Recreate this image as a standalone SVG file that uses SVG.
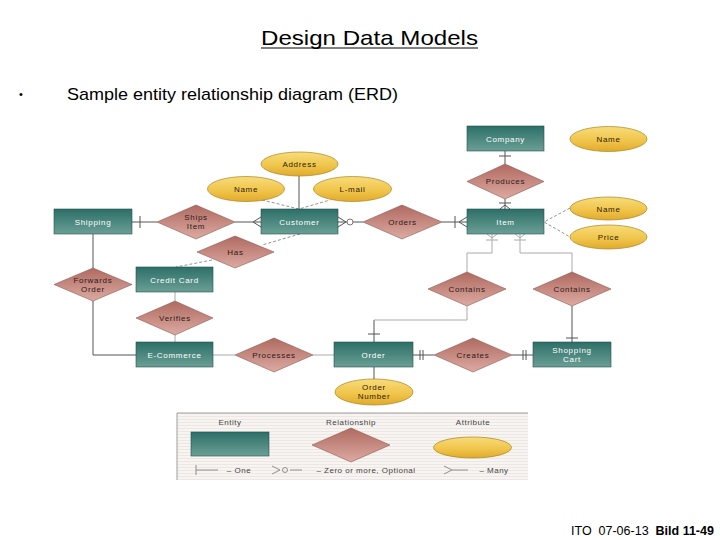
<svg xmlns="http://www.w3.org/2000/svg" width="720" height="540" viewBox="0 0 720 540">
<defs>
<linearGradient id="gE" x1="0" y1="0" x2="0" y2="1"><stop offset="0" stop-color="#2c6f68"/><stop offset="1" stop-color="#6b9f95"/></linearGradient>
<linearGradient id="gR" x1="0" y1="0" x2="0" y2="1"><stop offset="0" stop-color="#b06a60"/><stop offset="1" stop-color="#dcaaa2"/></linearGradient>
<linearGradient id="gA" x1="0" y1="0" x2="0" y2="1"><stop offset="0" stop-color="#f8dc7a"/><stop offset="0.6" stop-color="#efc348"/><stop offset="1" stop-color="#e0aa2c"/></linearGradient>
<pattern id="stripes" width="8" height="3" patternUnits="userSpaceOnUse"><rect width="8" height="3" fill="#f7f4f2"/><rect y="2" width="8" height="1" fill="#ede7e3"/></pattern>
<style>
.ent{fill:url(#gE);stroke:#24504b;stroke-width:0.6}
.rel{fill:url(#gR);stroke:#8c5a52;stroke-width:0.6}
.att{fill:url(#gA);stroke:#a88420;stroke-width:0.7}
.et{font-family:"Liberation Sans",Arial,sans-serif;font-size:8px;fill:#ffffff;text-anchor:middle;letter-spacing:0.7px}
.rt{font-family:"Liberation Sans",Arial,sans-serif;font-size:8px;fill:#2e1a1a;text-anchor:middle;letter-spacing:0.7px}
.at{font-family:"Liberation Sans",Arial,sans-serif;font-size:8px;fill:#2e2210;text-anchor:middle;letter-spacing:0.7px}
.lt{font-family:"Liberation Sans",Arial,sans-serif;font-size:8px;fill:#444;text-anchor:middle;letter-spacing:0.5px}
.s{stroke:#555;stroke-width:1;fill:none}
.g{stroke:#aaa;stroke-width:1;fill:none}
.d{stroke:#777;stroke-width:0.8;fill:none;stroke-dasharray:3 2}
</style>
</defs>
<rect width="720" height="540" fill="#ffffff"/>
<g id="title">
<text x="261" y="45" font-family="Liberation Sans,Arial,sans-serif" font-size="21" textLength="217" lengthAdjust="spacingAndGlyphs" fill="#000">Design Data Models</text>
<line x1="261" y1="48" x2="478" y2="48" stroke="#000" stroke-width="1"/>
<text x="19" y="98" font-family="Liberation Sans,Arial,sans-serif" font-size="11" fill="#000">•</text>
<text x="67" y="100" font-family="Liberation Sans,Arial,sans-serif" font-size="17" textLength="331" lengthAdjust="spacingAndGlyphs" fill="#000">Sample entity relationship diagram (ERD)</text>
</g>
<g id="connectors">
<path class="s" d="M505 151V164M499 156H511"/>
<path class="s" d="M505 199V209M499 203H511M500 209L505 205L510 209"/>
<path class="s" d="M299 176V209"/>
<path class="d" d="M262 200L299 209L330 200"/>
<path class="s" d="M132 222H157M140 216V228"/>
<path class="s" d="M235 222H261M261 217L253 222L261 227"/>
<path class="s" d="M338 222H363M338 217L346 222L338 227"/>
<circle cx="350" cy="222" r="3" fill="#fff" stroke="#555" stroke-width="0.8"/>
<path class="s" d="M442 222H467M455 216V228M467 217L459 222L467 227"/>
<path class="d" d="M570 208L544 222L570 237"/>
<path class="d" d="M300 234L262 245M212 260L176 267"/>
<path class="s" d="M93 234V268"/>
<path class="s" d="M93 301V355H136"/>
<path class="g" d="M175 292V301M175 334V342"/>
<path class="g" d="M213 355H235M313 355H334"/>
<path class="s" d="M413 355H434M420 350V360M423 350V360"/>
<path class="s" d="M512 355H533M523 350V360M526 350V360"/>
<path class="s" d="M374 342V320M368 334H380"/>
<path class="g" d="M374 320H467V306"/>
<path class="g" d="M467 272V253H492V234M486 240H498M487 234L492 238L497 234"/>
<path class="g" d="M520 234V253H572V272M514 240H526M515 234L520 238L525 234"/>
<path class="s" d="M572 306V342M566 338H578"/>
<path class="s" d="M374 367V379"/>
</g>
<g id="company"><rect class="ent" x="467" y="126" width="77" height="25"/><text class="et" x="505.5" y="141.5">Company</text></g>
<g id="shipping"><rect class="ent" x="54" y="209" width="78" height="25"/><text class="et" x="93" y="224.5">Shipping</text></g>
<g id="customer"><rect class="ent" x="261" y="209" width="77" height="25"/><text class="et" x="299.5" y="224.5">Customer</text></g>
<g id="item"><rect class="ent" x="467" y="209" width="77" height="25"/><text class="et" x="505.5" y="224.5">Item</text></g>
<g id="creditcard"><rect class="ent" x="136" y="267" width="77" height="25"/><text class="et" x="174.5" y="282.5">Credit Card</text></g>
<g id="ecommerce"><rect class="ent" x="136" y="342" width="77" height="25"/><text class="et" x="174.5" y="357.5">E-Commerce</text></g>
<g id="order"><rect class="ent" x="334" y="342" width="79" height="25"/><text class="et" x="373.5" y="357.5">Order</text></g>
<g id="shoppingcart"><rect class="ent" x="533" y="342" width="78" height="25"/><text class="et" x="572" y="353">Shopping</text><text class="et" x="572" y="362">Cart</text></g>
<g id="produces"><polygon class="rel" points="505,164 544,181.5 505,199 467,181.5"/><text class="rt" x="505.5" y="184">Produces</text></g>
<g id="shipsitem"><polygon class="rel" points="196,205 235,222 196,239 157,222"/><text class="rt" x="196" y="220">Ships</text><text class="rt" x="196" y="229">Item</text></g>
<g id="orders"><polygon class="rel" points="402,205 442,222 402,239 363,222"/><text class="rt" x="402.5" y="225">Orders</text></g>
<g id="has"><polygon class="rel" points="235,236 274,252 235,268 197,252"/><text class="rt" x="235.5" y="255">Has</text></g>
<g id="forwardsorder"><polygon class="rel" points="93,268 132,284.5 93,301 54,284.5"/><text class="rt" x="93" y="283">Forwards</text><text class="rt" x="93" y="292">Order</text></g>
<g id="verifies"><polygon class="rel" points="175,301 213,318 175,335 136,318"/><text class="rt" x="175" y="321">Verifies</text></g>
<g id="processes"><polygon class="rel" points="274,338 313,355 274,372 235,355"/><text class="rt" x="274" y="358">Processes</text></g>
<g id="containsL"><polygon class="rel" points="467,272 506,289 467,306 428,289"/><text class="rt" x="467" y="292">Contains</text></g>
<g id="containsR"><polygon class="rel" points="572,272 611,289 572,306 533,289"/><text class="rt" x="572" y="292">Contains</text></g>
<g id="creates"><polygon class="rel" points="473,338 512,355 473,372 434,355"/><text class="rt" x="473" y="358">Creates</text></g>
<g id="address"><ellipse class="att" cx="299.5" cy="164" rx="38.5" ry="12"/><text class="at" x="299.5" y="167">Address</text></g>
<g id="custname"><ellipse class="att" cx="246" cy="189" rx="38.5" ry="12.5"/><text class="at" x="246" y="192">Name</text></g>
<g id="email"><ellipse class="att" cx="352.5" cy="189" rx="39" ry="12.5"/><text class="at" x="352.5" y="192">L-mail</text></g>
<g id="compname"><ellipse class="att" cx="608.5" cy="139" rx="38.5" ry="12.5"/><text class="at" x="608.5" y="142">Name</text></g>
<g id="itemname"><ellipse class="att" cx="608.5" cy="208.5" rx="38.5" ry="11.5"/><text class="at" x="608.5" y="211.5">Name</text></g>
<g id="price"><ellipse class="att" cx="608.5" cy="237" rx="38.5" ry="12"/><text class="at" x="608.5" y="240">Price</text></g>
<g id="ordernumber"><ellipse class="att" cx="374" cy="392" rx="39" ry="13"/><text class="at" x="374" y="390">Order</text><text class="at" x="374" y="399">Number</text></g>
<g id="legend">
<rect x="177" y="413" width="351" height="67" fill="url(#stripes)"/>
<path d="M177 480V413H528" stroke="#888" stroke-width="0.8" fill="none"/>
<text class="lt" x="230" y="425">Entity</text>
<text class="lt" x="351" y="425">Relationship</text>
<text class="lt" x="473" y="425">Attribute</text>
<rect class="ent" x="191" y="432" width="78" height="24"/>
<polygon class="rel" points="351,428 390,445 351,462 312,445"/>
<ellipse class="att" cx="472.5" cy="447.5" rx="39" ry="10.5"/>
<path d="M196 465V475M196 470H218" stroke="#777" stroke-width="0.8" fill="none"/>
<text class="lt" x="239" y="473">– One</text>
<path d="M272 466L280 470L272 474M290 470H302" stroke="#777" stroke-width="0.8" fill="none"/>
<circle cx="285" cy="470" r="2.5" fill="none" stroke="#777" stroke-width="0.8"/>
<text class="lt" x="366" y="473">– Zero or more, Optional</text>
<path d="M444 466L452 470L444 474M452 470H468" stroke="#777" stroke-width="0.8" fill="none"/>
<text class="lt" x="494" y="473">– Many</text>
</g>
<g id="footer">
<text x="571" y="535" font-family="Liberation Sans,Arial,sans-serif" font-size="12.5" fill="#000" xml:space="preserve">ITO  07-06-13  <tspan font-weight="bold">Bild 11-49</tspan></text>
</g>
</svg>
